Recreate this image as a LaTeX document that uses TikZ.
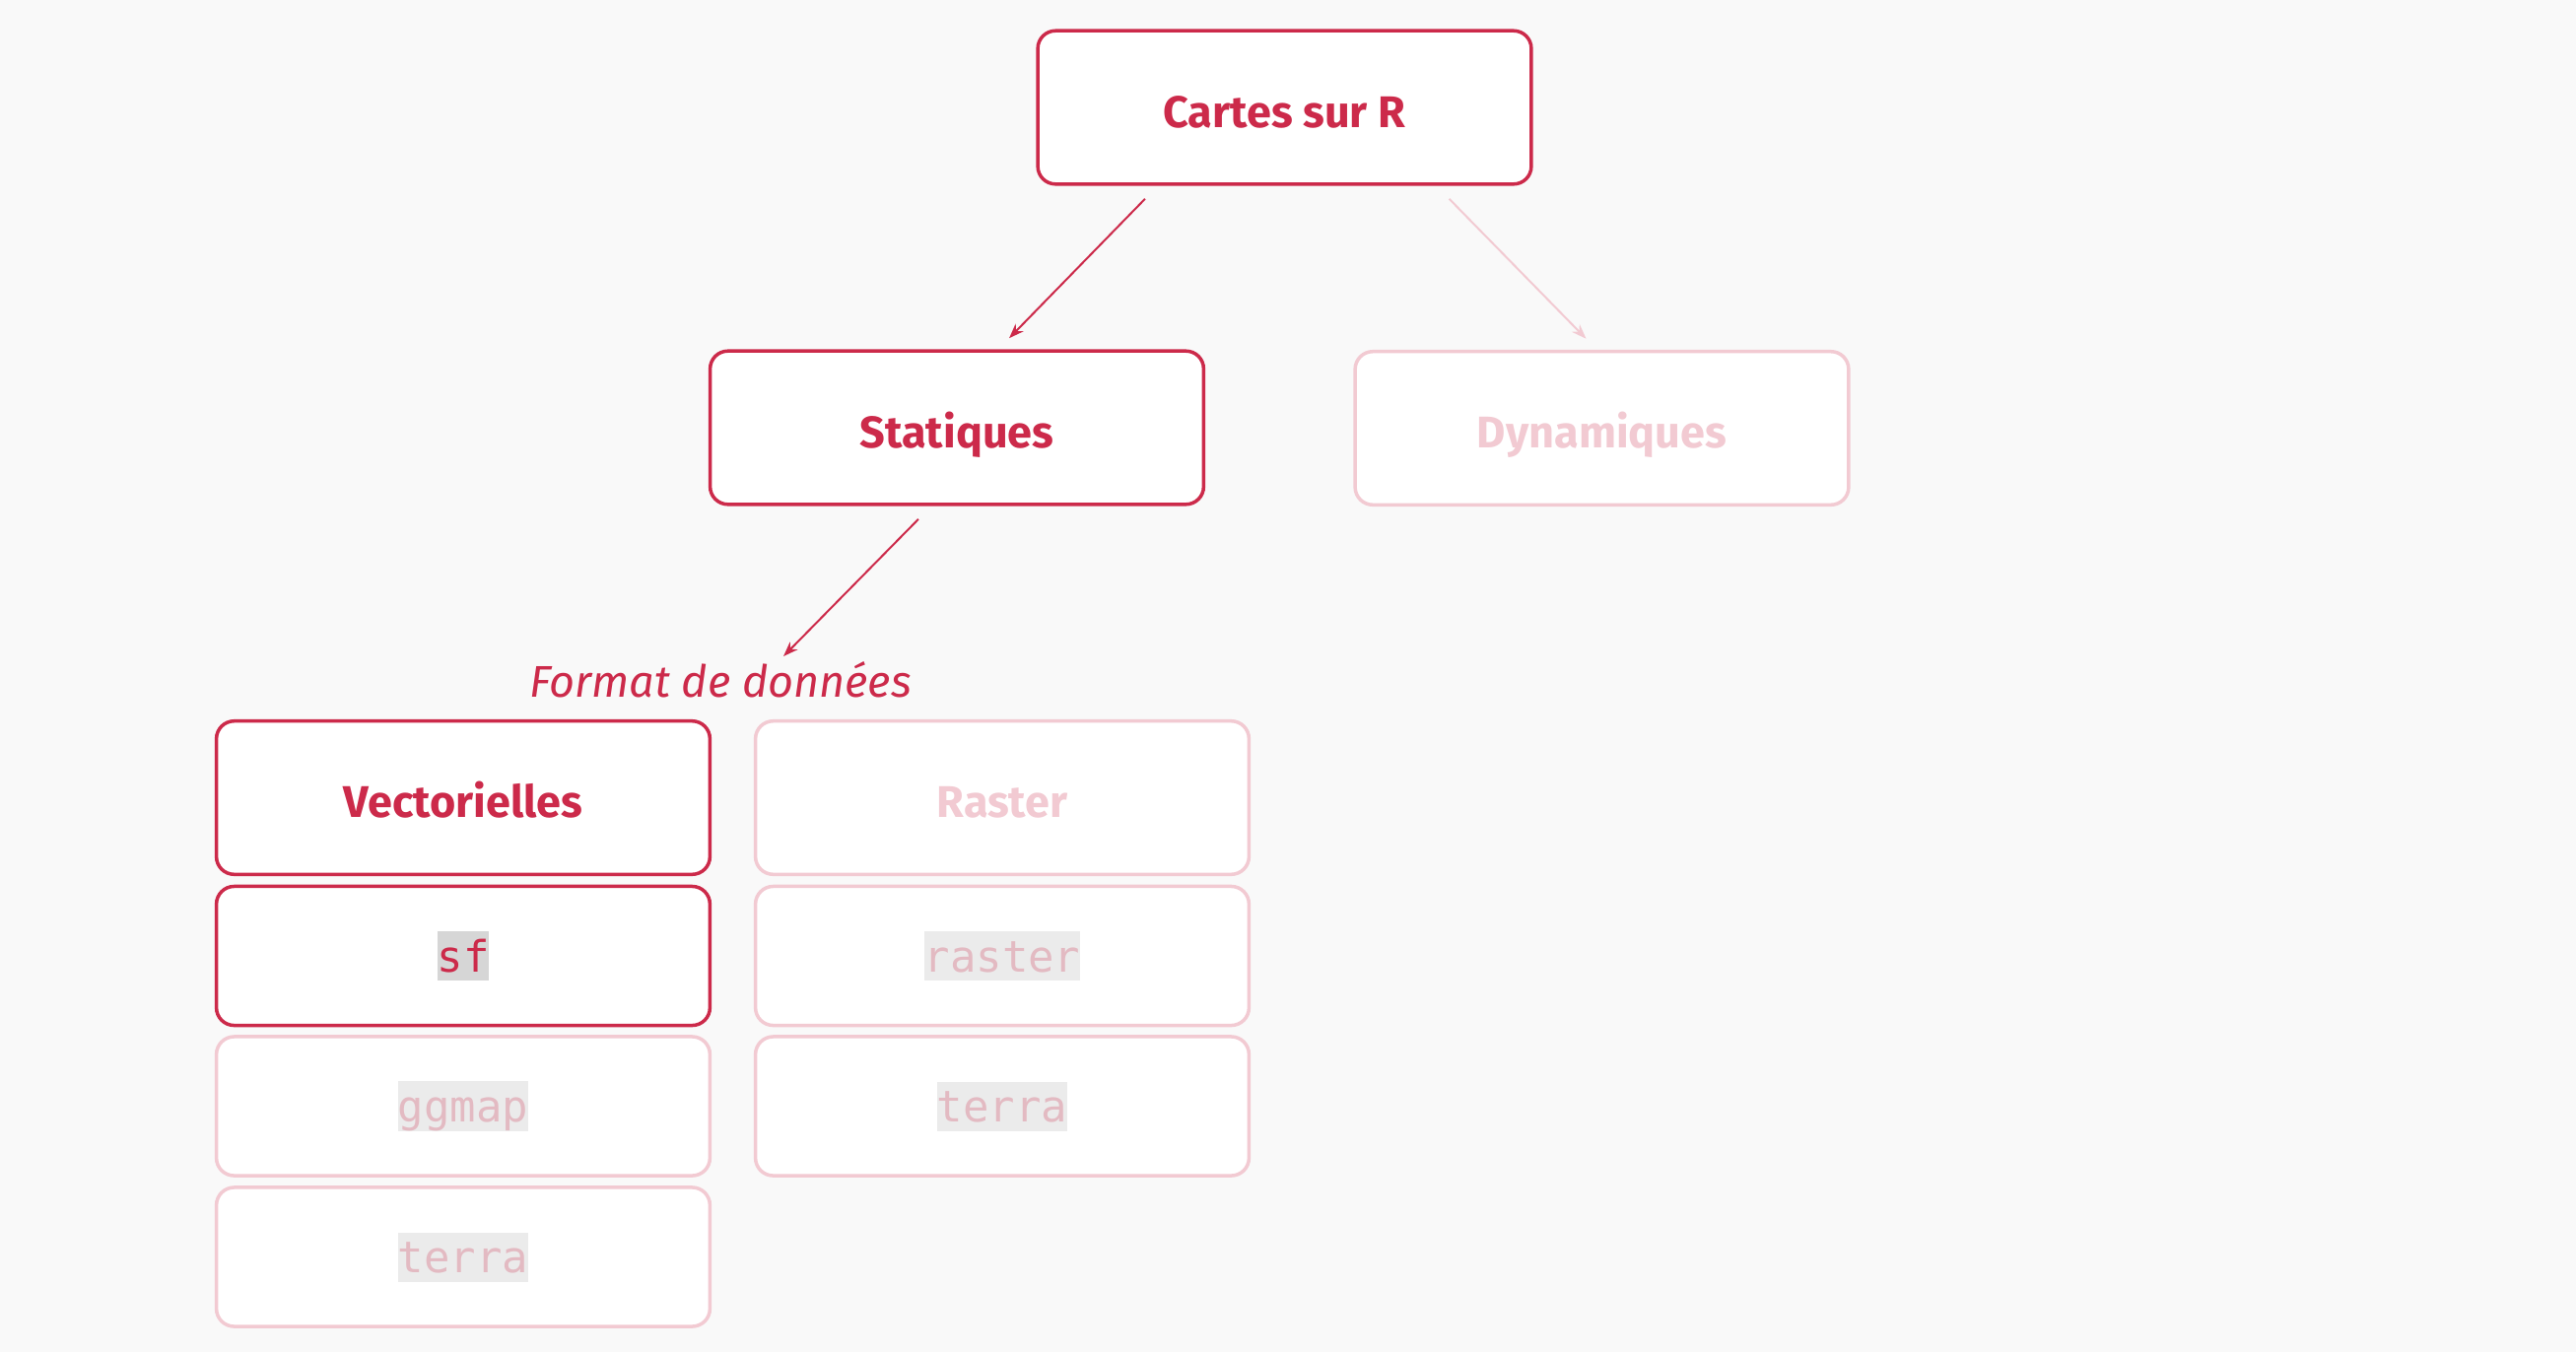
\documentclass[tikz,border=0pt]{standalone}
\usepackage{fontspec}
\setmainfont{Fira Sans}
\setmonofont{DejaVu Sans Mono}
\usetikzlibrary{arrows.meta}
\definecolor{redA}{HTML}{CC2A4A}
\definecolor{paleA}{HTML}{F2CAD2}
\definecolor{bgA}{HTML}{F9F9F9}
\definecolor{codeOn}{HTML}{D6D6D6}
\definecolor{codeOff}{HTML}{EBEBEB}
\definecolor{codeTxtOff}{HTML}{E3BAC2}
\setlength{\fboxsep}{0pt}
\newcommand{\mycode}[3]{\colorbox{#1}{\rule[-0.09cm]{0pt}{0.5cm}\textcolor{#2}{\mdseries\ttfamily\fontsize{12.5pt}{14pt}\selectfont #3}}}
\begin{document}
\begin{tikzpicture}[x=0.01cm,y=-0.01cm,
  cell/.style={draw, rounded corners=0.18cm, fill=white, line width=0.035cm,
    minimum width=5.005cm, inner sep=0pt, outer sep=0pt,
    text height=0.4cm, text depth=0cm,
    font=\fontsize{12.8pt}{15pt}\selectfont\bfseries},
  actv/.style={draw=redA, text=redA},
  inactv/.style={draw=paleA, text=paleA},
  tallcell/.style={minimum height=1.555cm},
  shortcell/.style={minimum height=1.41cm, text height=0.41cm, text depth=0.09cm},
  arr/.style={-{Stealth[length=0.15cm,width=0.11cm]}, line width=0.02cm},
 ]
\useasboundingbox (0,0) rectangle (2614,1372);
\fill[bgA] (0,0) rectangle (2614,1372);

\node[cell, actv, tallcell] (cartes) at (1303.5,109) {Cartes sur R};
\node[cell, actv, tallcell] (stat) at (971,434) {Statiques};
\node[cell, inactv, tallcell] (dyn) at (1625.5,434.5) {Dynamiques};

\node[anchor=base, text=redA, inner sep=0pt,
  font=\fontsize{12.8pt}{15pt}\selectfont\itshape] (fmt) at (731,707) {Format de données};

\node[cell, actv, tallcell] (vect) at (470,809.5) {Vectorielles};
\node[cell, inactv, tallcell] (rast) at (1017,809.5) {Raster};

\node[cell, actv, shortcell] (sf) at (470,970) {\mycode{codeOn}{redA}{sf}};
\node[cell, inactv, shortcell] (rasterpkg) at (1017,970) {\mycode{codeOff}{codeTxtOff}{raster}};
\node[cell, inactv, shortcell] (ggmap) at (470,1122.5) {\mycode{codeOff}{codeTxtOff}{ggmap}};
\node[cell, inactv, shortcell] (terraR) at (1017,1122.5) {\mycode{codeOff}{codeTxtOff}{terra}};
\node[cell, inactv, shortcell] (terraL) at (470,1275.5) {\mycode{codeOff}{codeTxtOff}{terra}};

\draw[arr, redA] ([xshift=-1.415cm,yshift=-0.15cm]cartes.south) -- ([xshift=0.53cm,yshift=0.13cm]stat.north);
\draw[arr, paleA] ([xshift=1.67cm,yshift=-0.15cm]cartes.south) -- ([xshift=-0.16cm,yshift=0.13cm]dyn.north);
\draw[arr, redA] ([xshift=-0.39cm,yshift=-0.15cm]stat.south) -- ([xshift=0.64cm,yshift=0.41cm]fmt.base);
\end{tikzpicture}
\end{document}
